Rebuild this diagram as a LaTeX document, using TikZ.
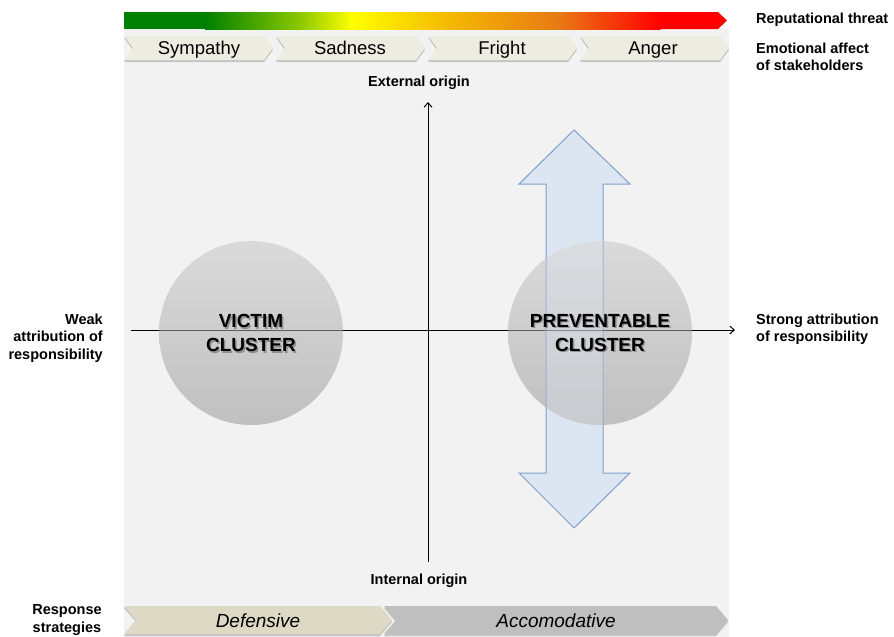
\documentclass[tikz,border=0pt]{standalone}
\usepackage{fontspec}
\setmainfont{Liberation Sans}
\usetikzlibrary{arrows.meta}

\definecolor{panel}{HTML}{F2F2F2}
\definecolor{chev}{HTML}{EEECE1}
\definecolor{defcol}{HTML}{DDD9C4}
\definecolor{acccol}{HTML}{BFBFBF}
\definecolor{arrfill}{HTML}{DCE6F2}
\definecolor{arrline}{HTML}{7F9FCB}
\definecolor{gA}{RGB}{0,128,0}
\definecolor{gB}{RGB}{140,200,0}
\definecolor{gY}{RGB}{255,255,0}
\definecolor{gO}{RGB}{245,190,0}
\definecolor{gP}{RGB}{232,120,20}
\definecolor{gR}{RGB}{255,0,0}
\definecolor{cTop}{HTML}{DADADA}
\definecolor{cBot}{HTML}{C0C0C0}

% chevron outline: left x, right tip x, top y, bottom y, notch depth
\newcommand\chevpath[5]{(#1,#3) -- ({#2-#5},#3) -- (#2,{(#3+#4)/2}) -- ({#2-#5},#4) -- (#1,#4) -- ({#1+#5},{(#3+#4)/2}) -- cycle}
% double-headed vertical arrow outline
\newcommand\dblarrowpath{(574,130) -- (630,184) -- (603,184) -- (603,473) -- (630,473) -- (574,528)
  -- (519,473) -- (546,473) -- (546,184) -- (519,184) -- cycle}

\tikzset{
  lbl/.style={font=\fontsize{14.5}{17.5}\selectfont\bfseries, inner sep=0pt},
  emo/.style={font=\fontsize{18.5}{22}\selectfont, inner sep=0pt, anchor=base},
  strat/.style={font=\fontsize{19}{22}\selectfont\itshape, inner sep=0pt, anchor=base},
  clus/.style={font=\fontsize{19}{24}\selectfont\bfseries, align=center, inner sep=0pt},
  axisline/.style={line width=1pt, -{Straight Barb[length=4.5pt,width=8pt]}},
  chevshadow/.style={fill=black!45, opacity=0.45},
  disc/.style={top color=cTop, bottom color=cBot},
}

\begin{document}
\begin{tikzpicture}[x=1pt,y=-1pt]
\useasboundingbox (0,0) rectangle (894,637);

% background panel
\fill[panel] (124,29) rectangle (729,637);

% reputational threat bar
\fill[gA] (124,12) rectangle (205.5,29);
\shade[left color=gA, right color=gB] (205,12) rectangle (300.5,29);
\shade[left color=gB, right color=gY] (300,12) rectangle (352.5,29);
\shade[left color=gY, right color=gO] (352,12) rectangle (440.5,29);
\shade[left color=gO, right color=gP] (440,12) rectangle (560.5,29);
\shade[left color=gP, right color=gR] (560,12) rectangle (660.5,29);
\fill[gR] (660,12) -- (718,12) -- (727,20.5) -- (718,29) -- (660,29) -- cycle;

% emotional affect chevrons
\foreach \xa/\xb in {124/273, 276/425, 428/577, 580/729} {
  \fill[chevshadow] [shift={(0,2)}] \chevpath{\xa}{\xb}{36}{60}{9};
  \fill[chev] \chevpath{\xa}{\xb}{36}{60}{9};
}
\node[emo] (sym) at (199,54.5) {Sympathy};
\node[emo] (sad) at (350,54.5) {Sadness};
\node[emo] (fri) at (502,54.5) {Fright};
\node[emo] (ang) at (653,54.5) {Anger};

% response strategy chevrons
\fill[chevshadow] [shift={(0,2)}] \chevpath{124}{392}{606}{634}{12};
\fill[defcol] \chevpath{124}{392}{606}{634}{12};
\fill[chevshadow] [shift={(0,2)}] \chevpath{384}{728}{606}{634}{12};
\fill[acccol] \chevpath{384}{728}{606}{634}{12};
\node[strat] (def) at (258,627) {Defensive};
\node[strat] (acc) at (556,627) {Accomodative};

% axes
\coordinate (xl) at (131,330);
\coordinate (xr) at (735,330);
\coordinate (yb) at (428,562);
\coordinate (yt) at (428,102);
\draw[axisline] (xl) -- (xr);
\draw[axisline] (yb) -- (yt);

% double arrow of origin
\filldraw[fill=arrfill, draw=arrline, line width=1pt] \dblarrowpath;

% clusters: shaded discs, with what lies beneath showing through faintly
\shade[disc] (251,333) circle (92);
\shade[disc] (600,333) circle (92);
\begin{scope}
  \clip (251,333) circle (92);
  \draw[black, line width=1pt, opacity=0.55] (xl) -- (xr);
\end{scope}
\begin{scope}
  \clip (600,333) circle (92);
  \draw[black, line width=1pt, opacity=0.55] (xl) -- (xr);
  \filldraw[fill=arrfill, fill opacity=0.3, draw=arrline, draw opacity=0.6, line width=1pt] \dblarrowpath;
\end{scope}
\node[clus, text=black, opacity=0.3] at (252.5,334.5) {VICTIM\\CLUSTER};
\node[clus] (vic) at (251,333) {VICTIM\\CLUSTER};
\node[clus, text=black, opacity=0.3] at (601.5,334.5) {PREVENTABLE\\CLUSTER};
\node[clus] (pre) at (600,333) {PREVENTABLE\\CLUSTER};

% axis labels
\node[lbl] (ext) at (419,83) {External origin};
\node[lbl] (int) at (419,581) {Internal origin};
\node[lbl, align=right, anchor=east] (weak) at (103,338) {Weak\\attribution of\\responsibility};
\node[lbl, align=left, anchor=west] (strong) at (756,329) {Strong attribution\\of responsibility};

% side legend
\node[lbl, anchor=west] (rep) at (756,20) {Reputational threat};
\node[lbl, align=left, anchor=west] (emol) at (756,57) {Emotional affect\\of stakeholders};
\node[lbl, align=center] (resp) at (67,620) {Response\\strategies};
\end{tikzpicture}
\end{document}
